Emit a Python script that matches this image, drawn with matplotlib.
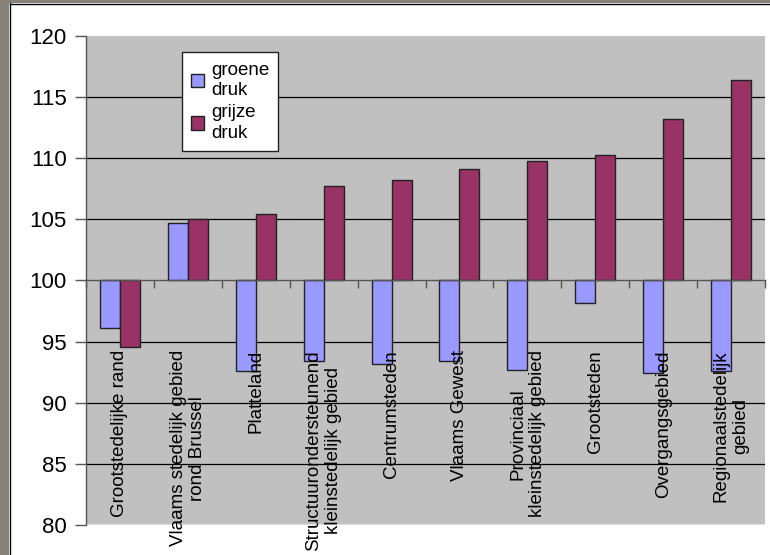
import matplotlib
matplotlib.use("Agg")
import matplotlib.pyplot as plt
from matplotlib.patches import Rectangle
from matplotlib.lines import Line2D
import numpy as np

categories = [
    "Grootstedelijke rand",
    "Vlaams stedelijk gebied\nrond Brussel",
    "Platteland",
    "Structuurondersteunend\nkleinstedelijk gebied",
    "Centrumsteden",
    "Vlaams Gewest",
    "Provinciaal\nkleinstedelijk gebied",
    "Grootsteden",
    "Overgangsgebied",
    "Regionaalstedelijk\ngebied",
]
groene = [96.1, 104.7, 92.6, 93.4, 93.2, 93.4, 92.7, 98.2, 92.4, 92.6]
grijze = [94.6, 105.0, 105.4, 107.7, 108.2, 109.1, 109.75, 110.3, 113.2, 116.4]
series_labels = ["groene\ndruk", "grijze\ndruk"]
yticks = [80, 85, 90, 95, 100, 105, 110, 115, 120]

plt.rcParams['font.family'] = ['Liberation Sans', 'DejaVu Sans']

W, H = 770, 555
fig = plt.figure(figsize=(W / 100, H / 100), dpi=100)
fig.patch.set_facecolor('white')

# outer frame
border = '#86827a'
fig.patches.append(Rectangle((0, 0), 9 / W, 1, transform=fig.transFigure, facecolor=border, edgecolor='none', zorder=0))
fig.patches.append(Rectangle((0, 1 - 3 / H), 1, 3 / H, transform=fig.transFigure, facecolor=border, edgecolor='none', zorder=0))
fig.lines.append(Line2D([9.5 / W, 9.5 / W], [0, 1 - 3 / H], transform=fig.transFigure, color='black', lw=1))
fig.lines.append(Line2D([9.5 / W, 1], [1 - 3.5 / H, 1 - 3.5 / H], transform=fig.transFigure, color='black', lw=1))

left, right, top, bottom = 86, 765, 36, 525
ax = fig.add_axes([left / W, 1 - bottom / H, (right - left) / W, (bottom - top) / H])
ax.set_facecolor('#c0c0c0')

x = np.arange(len(categories))
bw = 0.295
base = 100
ax.bar(x - bw / 2, np.array(groene) - base, bw, bottom=base, color='#9999ff', edgecolor='#222222', linewidth=1, zorder=3, label=series_labels[0])
ax.bar(x + bw / 2, np.array(grijze) - base, bw, bottom=base, color='#993366', edgecolor='#222222', linewidth=1, zorder=3, label=series_labels[1])

ax.set_xlim(-0.5, len(categories) - 0.5)
ax.set_ylim(80, 120)

for g in [85, 90, 95, 105, 110, 115]:
    ax.axhline(g, color='black', lw=0.9, zorder=1)
ax.axhline(80, color='#dcdcdc', lw=1.5, zorder=1)

for s in ['top', 'right']:
    ax.spines[s].set_visible(False)
ax.spines['left'].set_color('#555555')
ax.spines['left'].set_linewidth(1)
ax.spines['bottom'].set_position(('data', 100))
ax.spines['bottom'].set_color('#555555')
ax.spines['bottom'].set_linewidth(1)
ax.spines['bottom'].set_zorder(4)

ax.set_yticks(yticks)
ax.set_yticklabels([str(v) for v in yticks], fontsize=16)
ax.tick_params(axis='y', direction='out', length=8, width=1, color='#555555', pad=6)
ax.set_xticks(np.arange(-0.5, len(categories) + 0.5, 1))
ax.set_xticklabels([])
ax.tick_params(axis='x', direction='out', length=6, width=1, color='#555555')

for i, lab in enumerate(categories):
    ax.text(i, 94.3, lab, rotation=90, ha='center', va='top', multialignment='center',
            fontsize=13.5, color='black', zorder=5, linespacing=1.2)

leg = ax.legend(loc='upper left', bbox_to_anchor=(0.141, 0.967), fontsize=13.5,
                frameon=True, fancybox=False, edgecolor='#222222', framealpha=1,
                handlelength=0.7, handleheight=0.7, handletextpad=0.35,
                borderpad=0.5, labelspacing=0.3, borderaxespad=0)
leg.get_frame().set_linewidth(1)
for t in leg.get_texts():
    t.set_linespacing(1.25)
leg.set_zorder(6)

fig.savefig('out.png', dpi=100)
